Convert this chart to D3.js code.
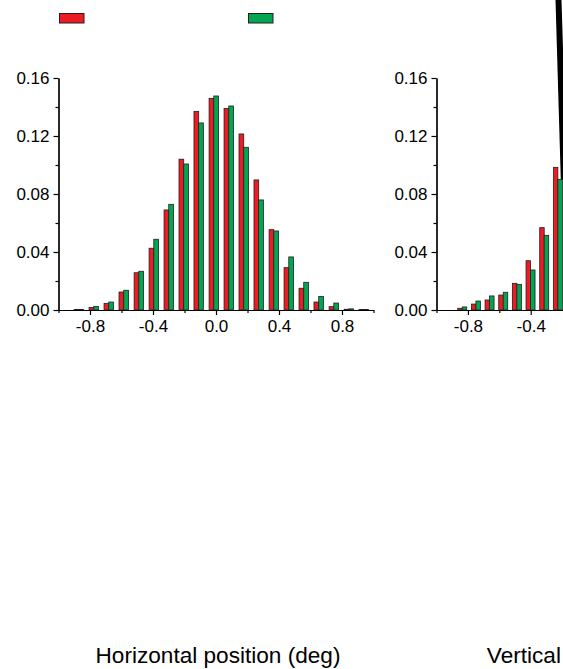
<!DOCTYPE html>
<html>
<head>
<meta charset="utf-8">
<script src="https://cdn.jsdelivr.net/npm/d3@7"></script>
<style>
body { margin: 0; background: #fff; }
svg { display: block; font-family: "Liberation Sans", Arial, Helvetica, sans-serif; }
.axis path, .axis line { stroke: #000; stroke-width: 1.2; }
.axis text { fill: #000; font-size: 17px; }
</style>
</head>
<body>
<div id="canvas"></div>
<script>
// horizontal position histogram (bin centres in deg, proportions)
const hCenters = [-0.871, -0.776, -0.681, -0.586, -0.490, -0.395, -0.300, -0.205, -0.110, -0.014,
                  0.081, 0.176, 0.271, 0.367, 0.462, 0.557, 0.652, 0.748, 0.843, 0.938];
const hRed   = [0.0003, 0.0018, 0.0046, 0.0124, 0.0257, 0.0426, 0.0690, 0.1040, 0.1370, 0.1460,
                0.1390, 0.1214, 0.0897, 0.0554, 0.0292, 0.0150, 0.0055, 0.0023, 0.0005, 0.0003];
const hGreen = [0.0003, 0.0025, 0.0055, 0.0136, 0.0267, 0.0488, 0.0729, 0.1007, 0.1290, 0.1476,
                0.1407, 0.1122, 0.0759, 0.0545, 0.0366, 0.0191, 0.0094, 0.0048, 0.0008, 0.0003];

// vertical position histogram (only the part that is visible)
const vCenters = [-0.836, -0.749, -0.662, -0.575, -0.488, -0.401, -0.314, -0.227];
const vRed   = [0.0012, 0.0041, 0.0069, 0.0103, 0.0184, 0.0340, 0.0568, 0.0984];
const vGreen = [0.0021, 0.0062, 0.0097, 0.0122, 0.0177, 0.0276, 0.0515, 0.0901];

const xMajor = [-0.8, -0.4, 0.0, 0.4, 0.8];
const xMinor = [-1.0, -0.6, -0.2, 0.2, 0.6, 1.0];
const yMajor = [0.00, 0.04, 0.08, 0.12, 0.16];
const yMinor = [0.02, 0.06, 0.10, 0.14];
const titles = ["Horizontal position (deg)", "Vertical position (deg)"];

const red = "#ed1c24";
const green = "#00a651";

const width = 563;
const height = 669;

const svg = d3.select("#canvas").append("svg")
    .attr("width", width)
    .attr("height", height);

// odd black stroke at the right edge of the figure
svg.append("path")
    .attr("d", "M555.5,0 L561.5,0 L567,180 L560.8,180 Z")
    .attr("fill", "#000");

function panel(left, plotW, barW, centers, redVals, greenVals, title) {
    const x = d3.scaleLinear().domain([-1, 1]).range([left, left + plotW]);
    const y = d3.scaleLinear().domain([0, 0.16]).range([310, 78]);
    // only ticks that fall inside the page
    const inView = t => x(t) < width - 12;

    const g = svg.append("g");
    const bins = centers.map((c, i) => ({ c, r: redVals[i], gr: greenVals[i] }));

    g.selectAll("rect.red").data(bins).enter().append("rect")
        .attr("class", "red")
        .attr("x", d => x(d.c) - barW)
        .attr("y", d => y(d.r))
        .attr("width", barW)
        .attr("height", d => y(0) - y(d.r))
        .attr("fill", red)
        .attr("stroke", "#231f20")
        .attr("stroke-width", 0.8);

    g.selectAll("rect.green").data(bins).enter().append("rect")
        .attr("class", "green")
        .attr("x", d => x(d.c))
        .attr("y", d => y(d.gr))
        .attr("width", barW)
        .attr("height", d => y(0) - y(d.gr))
        .attr("fill", green)
        .attr("stroke", "#231f20")
        .attr("stroke-width", 0.8);

    // minor ticks
    g.append("g").attr("class", "axis")
        .attr("transform", "translate(0,310)")
        .call(d3.axisBottom(x).tickValues(xMinor.filter(inView)).tickSize(3).tickSizeOuter(0).tickFormat(""));
    g.append("g").attr("class", "axis")
        .attr("transform", `translate(${left},0)`)
        .call(d3.axisLeft(y).tickValues(yMinor).tickSize(3).tickSizeOuter(0).tickFormat(""));

    // major ticks with labels
    g.append("g").attr("class", "axis")
        .attr("transform", "translate(0,310)")
        .call(d3.axisBottom(x).tickValues(xMajor.filter(inView)).tickSize(5).tickSizeOuter(0).tickPadding(5)
            .tickFormat(d => d.toFixed(1)));
    g.append("g").attr("class", "axis")
        .attr("transform", `translate(${left},0)`)
        .call(d3.axisLeft(y).tickValues(yMajor).tickSize(5).tickSizeOuter(0).tickPadding(4)
            .tickFormat(d => d.toFixed(2)));

    g.append("text")
        .attr("x", x(0) + 2)
        .attr("y", 663)
        .attr("text-anchor", "middle")
        .attr("font-size", "22.6px")
        .attr("fill", "#000")
        .text(title);
}

panel(58.5, 315, 4.7, hCenters, hRed, hGreen, titles[0]);
panel(436.5, 314, 4.5, vCenters, vRed, vGreen, titles[1]);

// legend swatches (labels not shown in the figure)
const legend = [{ c: red, x: 59.5 }, { c: green, x: 248.5 }];
svg.selectAll("rect.leg").data(legend).enter().append("rect")
    .attr("class", "leg")
    .attr("x", d => d.x)
    .attr("y", 13.5)
    .attr("width", 24.5)
    .attr("height", 9.5)
    .attr("fill", d => d.c)
    .attr("stroke", "#231f20")
    .attr("stroke-width", 1);
</script>
</body>
</html>
